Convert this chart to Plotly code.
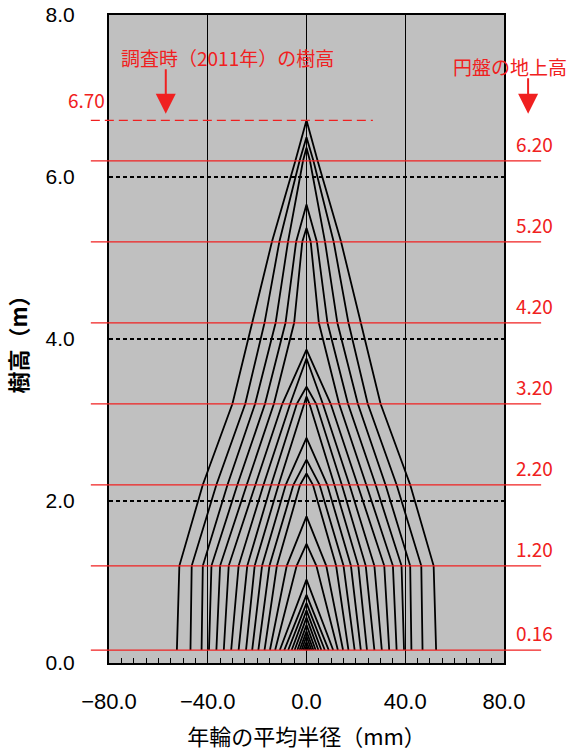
import plotly.graph_objects as go

# Stem analysis: mean ring radius (mm) on each disk, outermost ring first
disk_heights = [0.16, 1.20, 2.20, 3.20, 4.20, 5.20, 6.20]
tip_heights = [6.70, 6.49, 6.36, 5.66, 5.37, 3.87, 3.76, 3.41, 3.29, 2.78, 2.51, 2.34,
               1.81, 1.47, 1.03, 0.84, 0.74, 0.65, 0.56, 0.47, 0.39, 0.33, 0.26, 0.21]
radius_016 = [52.5, 47.0, 42.5, 39.5, 36.5, 33.5, 30.5, 27.5, 24.5, 22.0, 19.5, 17.0,
              14.8, 12.7, 10.8, 9.0, 7.4, 6.0, 4.8, 3.7, 2.8, 2.0, 1.3, 0.7]
radius_120 = [51.5, 46.5, 42.0, 38.5, 35.0, 31.5, 27.5, 24.0, 21.0, 18.0, 15.0, 12.0, 8.0, 4.0]
radius_220 = [42.0, 36.5, 32.0, 28.0, 24.2, 20.7, 17.4, 14.3, 11.3, 8.4, 5.3, 2.6]
radius_320 = [30.0, 24.8, 20.8, 16.8, 13.2, 9.8, 6.6, 3.9, 1.2]
radius_420 = [22.0, 17.0, 12.5, 8.5, 5.0]
radius_520 = [14.0, 11.0, 7.5, 4.2, 1.7]
radius_620 = [4.5, 2.8, 1.4]
survey_height = 6.70

x_ticks = [-80, -40, 0, 40, 80]
y_ticks = [0, 2, 4, 6, 8]

RED = "#f02020"
JP = "Noto Sans CJK JP"

disk_radii = [radius_016, radius_120, radius_220, radius_320,
              radius_420, radius_520, radius_620]

# one inverted-V outline per annual ring, mirrored about the pith
xs, ys = [], []
for k, tip in enumerate(tip_heights):
    hs = [h for h, r in zip(disk_heights, disk_radii) if k < len(r)]
    rs = [r[k] for r in disk_radii if k < len(r)]
    xs += [-v for v in rs] + [0] + rs[::-1] + [None]
    ys += hs + [tip] + hs[::-1] + [None]

fig = go.Figure()
fig.add_trace(go.Scatter(x=xs, y=ys, mode="lines",
                         line=dict(color="black", width=1.8),
                         hoverinfo="skip", showlegend=False))

shapes = []
annotations = []
for h in disk_heights:
    shapes.append(dict(type="line", xref="paper", yref="y", x0=-0.046, x1=1.094,
                       y0=h, y1=h, line=dict(color=RED, width=1.3), layer="above"))
    annotations.append(dict(xref="paper", yref="y", x=1.076, y=h, text=f"{h:.2f}",
                            showarrow=False, xanchor="center", yanchor="bottom", yshift=2,
                            font=dict(family=JP, size=19, color=RED)))

shapes.append(dict(type="line", xref="paper", yref="y", x0=-0.046, x1=0.668,
                   y0=survey_height, y1=survey_height,
                   line=dict(color=RED, width=1.3, dash="9px,5px"), layer="above"))
annotations.append(dict(xref="paper", yref="y", x=-0.058, y=survey_height,
                        text=f"{survey_height:.2f}", showarrow=False,
                        xanchor="center", yanchor="bottom", yshift=5,
                        font=dict(family=JP, size=19, color=RED)))

annotations.append(dict(xref="x", yref="y", x=-32, y=7.47, text="調査時（2011年）の樹高",
                        showarrow=False, xanchor="center",
                        font=dict(family=JP, size=19, color=RED)))
annotations.append(dict(xref="x", yref="y", x=-57, y=6.78, text="", showarrow=True,
                        ax=0, ay=-46, arrowhead=2, arrowsize=2, arrowwidth=2,
                        arrowcolor=RED))
annotations.append(dict(xref="paper", yref="y", x=1.015, y=7.37, text="円盤の地上高",
                        showarrow=False, xanchor="center",
                        font=dict(family=JP, size=19, color=RED)))
annotations.append(dict(xref="paper", yref="y", x=1.061, y=6.78, text="", showarrow=True,
                        ax=0, ay=-37, arrowhead=2, arrowsize=2, arrowwidth=2,
                        arrowcolor=RED))

fig.update_layout(
    width=570, height=751,
    margin=dict(l=109, r=66, t=15, b=88, autoexpand=False),
    paper_bgcolor="white",
    plot_bgcolor="#c0c0c0",
    shapes=shapes,
    annotations=annotations,
    showlegend=False,
)

fig.update_xaxes(
    range=[-80, 80], tickmode="array", tickvals=x_ticks, tickformat=".1f",
    automargin=False,
    showgrid=True, gridcolor="black", gridwidth=1, zeroline=False,
    showline=True, linewidth=2, linecolor="black", mirror=True,
    ticks="inside", ticklen=5, tickcolor="black",
    minor=dict(dtick=5, tick0=0, ticks="inside", ticklen=5, tickcolor="black",
               showgrid=False),
    ticklabelstandoff=18,
    tickfont=dict(family="Liberation Sans", size=22, color="black"),
    title=dict(text="年輪の平均半径（mm）", standoff=22,
               font=dict(family=JP, size=22, color="black")),
)

fig.update_yaxes(
    range=[0, 8], tickmode="array", tickvals=y_ticks, tickformat=".1f",
    automargin=False,
    showgrid=True, gridcolor="black", gridwidth=2, griddash="4px,3px",
    zeroline=False,
    showline=True, linewidth=2, linecolor="black", mirror=True,
    ticks="", ticklabelstandoff=28,
    tickfont=dict(family="Liberation Sans", size=21, color="black"),
    title=dict(text="<b>樹高（m）</b>", standoff=12,
               font=dict(family=JP, size=22, color="black")),
)

fig.write_html("out.html")
